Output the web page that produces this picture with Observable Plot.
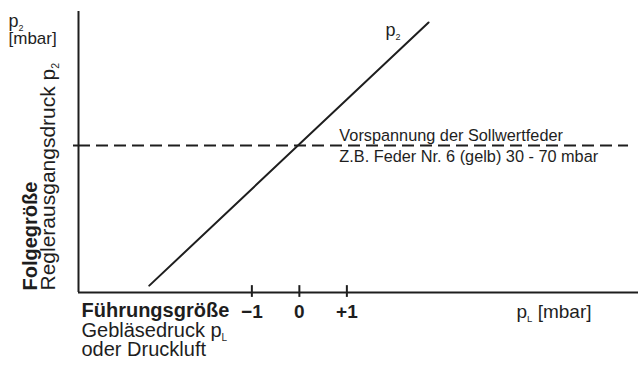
<!DOCTYPE html>
<html><head><meta charset="utf-8">
<script src="https://cdn.jsdelivr.net/npm/d3@7"></script>
<script src="https://cdn.jsdelivr.net/npm/@observablehq/plot@0.6"></script>
<style>
html,body{margin:0;padding:0;background:#fff;}
</style></head><body><div id="chart"></div>
<script>
// ---- data ----
const xTicks = [-1, 0, 1];
const xTickLabels = ["−1", "0", "+1"];
const setpoint = 3;
const lineX = [-3.16, 2.72];
const lineY = [0.14, 5.51];
const xDomain = [-4.65, 7.14];
const yDomain = [0, 5.735];
const dashEndX = 6.93;

const xTitleBold = "Führungsgröße";
const xTitleLines = ["Gebläsedruck p_L", "oder Druckluft"];
const xUnit = "p_L [mbar]";
const yTitleBold = "Folgegröße";
const yTitle = "Reglerausgangsdruck p_2";
const yUnitLines = ["p_2", "[mbar]"];
const seriesLabel = "p_2";
const noteLines = ["Vorspannung der Sollwertfeder", "Z.B. Feder Nr. 6 (gelb) 30 - 70 mbar"];

const ink = "#1e1e1e";
const linePts = lineX.map((x, i) => ({x, y: lineY[i]}));

const svg = Plot.plot({
  width: 638, height: 365,
  marginLeft: 78, marginRight: 0, marginTop: 11, marginBottom: 73,
  x: {domain: xDomain, axis: null},
  y: {domain: yDomain, axis: null},
  style: {fontFamily: "'Liberation Sans', Arial, Helvetica, sans-serif", color: ink, background: "#fff"},
  marks: [
    Plot.ruleX([xDomain[0]], {stroke: ink, strokeWidth: 2}),
    Plot.ruleY([0], {stroke: ink, strokeWidth: 2}),
    Plot.ruleX(xTicks, {y1: -0.1, y2: 0.14, stroke: ink, strokeWidth: 2}),
    Plot.axisY([setpoint], {tickSize: 5, tickFormat: () => "", label: null, stroke: ink, strokeWidth: 2}),
    Plot.ruleY([setpoint], {x1: xDomain[0], x2: dashEndX, stroke: ink, strokeWidth: 2, strokeDasharray: "12,6"}),
    Plot.line(linePts, {x: "x", y: "y", stroke: ink, strokeWidth: 2}),
    // tick labels
    Plot.text(xTicks, {x: d => d, frameAnchor: "bottom", text: (d, i) => xTickLabels[i], dy: 25, fontSize: 19, fontWeight: "bold", fill: ink}),
    // x titles
    Plot.text([xTitleBold], {frameAnchor: "bottom-left", textAnchor: "start", dx: 3, dy: 24.5, fontSize: 20, fontWeight: "bold", fill: ink}),
    Plot.text([xTitleLines[0]], {frameAnchor: "bottom-left", textAnchor: "start", dx: 3, dy: 44.5, fontSize: 20, fill: ink}),
    Plot.text([xTitleLines[1]], {frameAnchor: "bottom-left", textAnchor: "start", dx: 3, dy: 63.5, fontSize: 20, fill: ink}),
    Plot.text([xUnit], {frameAnchor: "bottom-left", textAnchor: "start", dx: 438, dy: 25, fontSize: 19, fill: ink}),
    // y titles
    Plot.text([yTitleBold], {frameAnchor: "bottom-left", textAnchor: "start", rotate: -90, dx: -41.5, dy: -2, fontSize: 20, fontWeight: "bold", fill: ink}),
    Plot.text([yTitle], {frameAnchor: "bottom-left", textAnchor: "start", rotate: -90, dx: -24, dy: -2, fontSize: 21, fill: ink}),
    Plot.text([yUnitLines[0]], {frameAnchor: "top-left", textAnchor: "start", dx: -70, dy: 3, fontSize: 18, fill: ink}),
    Plot.text([yUnitLines[1]], {frameAnchor: "top-left", textAnchor: "start", dx: -70, dy: 20.5, fontSize: 17, fill: ink}),
    // series label
    Plot.text([linePts[1]], {x: "x", y: "y", text: () => seriesLabel, textAnchor: "start", dx: -43, dy: 8, fontSize: 18, fill: ink}),
    // note
    Plot.text([noteLines[0]], {x: () => xTicks[1], y: () => setpoint, textAnchor: "start", dx: 40, dy: -10, fontSize: 16.3, fill: ink}),
    Plot.text([noteLines[1]], {x: () => xTicks[1], y: () => setpoint, textAnchor: "start", dx: 40, dy: 11, fontSize: 16.3, fill: ink})
  ]
});

// subscripts: "p_2" -> p + small lowered 2
d3.select(svg).selectAll("text").each(function () {
  const t = this.textContent;
  if (!t.includes("_")) return;
  const fs = parseFloat(this.getAttribute("font-size") || this.parentNode.getAttribute("font-size") || 16);
  const parts = t.split(/_(\w)/);
  this.textContent = "";
  const sel = d3.select(this);
  let shifted = 0;
  parts.forEach((s, i) => {
    if (!s) return;
    const ts = sel.append("tspan").text(s);
    if (i % 2 === 1) {
      const sh = fs * 0.22;
      ts.attr("font-size", fs * 0.5).attr("dy", sh - shifted);
      shifted = sh;
    } else if (shifted) {
      ts.attr("dy", -shifted);
      shifted = 0;
    }
  });
});

document.getElementById("chart").appendChild(svg);
</script></body></html>
